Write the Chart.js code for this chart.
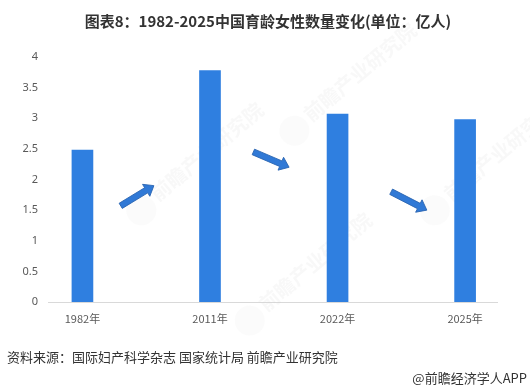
<!DOCTYPE html>
<html>
<head>
<meta charset="utf-8">
<script src="https://cdn.jsdelivr.net/npm/chart.js@4"></script>
<style>
  html, body { margin: 0; padding: 0; background: #fff; }
  #wrap { position: relative; width: 530px; height: 392px; overflow: hidden;
    font-family: "Noto Sans CJK SC", "Noto Sans", sans-serif; }
  #title { position: absolute; left: 3px; width: 530px; top: 10px; text-align: center;
    font-size: 15px; font-weight: bold; color: #333; }
  #src { position: absolute; left: 7px; top: 347px; font-size: 13px; color: #333; }
  #brand { position: absolute; right: 3px; top: 368px; font-size: 13px; color: #333; }
  canvas { position: absolute; left: 0; top: 0; }
</style>
</head>
<body>
<div id="wrap">
  <canvas id="c" width="530" height="392"></canvas>
  <div id="title">图表8：1982-2025中国育龄女性数量变化(单位：亿人)</div>
  <div id="src">资料来源：国际妇产科学杂志 国家统计局 前瞻产业研究院</div>
  <div id="brand">@前瞻经济学人APP</div>
</div>
<script>
  // values
  const years = ["1982年", "2011年", "2022年", "2025年"];
  const women = [2.48, 3.78, 3.07, 2.98];
  const yTicks = [0, 0.5, 1, 1.5, 2, 2.5, 3, 3.5, 4];
  // trend arrows, in data units: [x0, y0, x1, y1]
  const arrows = [
    [0.30, 1.57, 0.56, 1.90],
    [1.34, 2.45, 1.62, 2.20],
    [2.42, 1.80, 2.70, 1.50],
  ];
  // faint watermarks: [x, y] in data units
  const marks = [[0.75, 2.0], [1.95, 3.3], [3.05, 2.0], [1.6, 0.2]];

  const BLUE = "#2f7fe0";

  // draws the blue block arrows between bars
  const arrowPlugin = {
    id: "arrows",
    afterDatasetsDraw(chart) {
      const { ctx, scales: { x, y } } = chart;
      arrows.forEach(a => {
        const x0 = x.getPixelForValue(a[0]), y0 = y.getPixelForValue(a[1]);
        const x1 = x.getPixelForValue(a[2]), y1 = y.getPixelForValue(a[3]);
        const len = Math.hypot(x1 - x0, y1 - y0);
        ctx.save();
        ctx.translate(x0, y0);
        ctx.rotate(Math.atan2(y1 - y0, x1 - x0));
        const w = 3, hl = 9, hw = 7;
        ctx.beginPath();
        ctx.moveTo(0, -w);
        ctx.lineTo(len - hl, -w);
        ctx.lineTo(len - hl, -hw);
        ctx.lineTo(len, 0);
        ctx.lineTo(len - hl, hw);
        ctx.lineTo(len - hl, w);
        ctx.lineTo(0, w);
        ctx.closePath();
        ctx.fillStyle = "#3079d6";
        ctx.fill();
        ctx.strokeStyle = "#2a64b0";
        ctx.lineWidth = 0.8;
        ctx.stroke();
        ctx.restore();
      });
    },
  };

  const watermarkPlugin = {
    id: "watermark",
    beforeDatasetsDraw(chart) {
      const { ctx, scales: { x, y } } = chart;
      marks.forEach(m => {
        ctx.save();
        ctx.translate(x.getPixelForValue(m[0]), y.getPixelForValue(m[1]));
        ctx.rotate(-Math.PI / 4.5);
        ctx.fillStyle = "rgba(205,205,210,0.08)";
        ctx.beginPath();
        ctx.arc(-48, 0, 15, 0, Math.PI * 2);
        ctx.fill();
        ctx.fillStyle = "rgba(205,205,210,0.15)";
        ctx.font = "bold 20px 'Noto Sans CJK SC'";
        ctx.textBaseline = "middle";
        ctx.fillText("前瞻产业研究院", -30, -3);
        ctx.restore();
      });
    },
  };

  new Chart(document.getElementById("c"), {
    type: "bar",
    data: {
      datasets: [{
        data: women.map((v, i) => ({ x: i, y: v })),
        backgroundColor: BLUE,
        barThickness: 21,
      }],
    },
    options: {
      responsive: false, animation: false,
      layout: { padding: { top: 57, right: 33, bottom: 60, left: 0 } },
      plugins: { legend: { display: false }, tooltip: { enabled: false } },
      scales: {
        x: {
          type: "linear", min: -0.27, max: 3.25, offset: false,
          afterBuildTicks: ax => { ax.ticks = years.map((_, i) => ({ value: i })); },
          afterFit: ax => { ax.height = 30; },
          grid: { display: false, drawTicks: false },
          border: { display: true, color: "#d9d9d9", width: 1 },
          ticks: {
            color: "#595959", padding: 10, maxRotation: 0, autoSkip: false,
            font: { family: "Noto Sans CJK SC", size: 11 },
            callback: v => years[v],
          },
        },
        y: {
          min: 0, max: 4,
          afterBuildTicks: ax => { ax.ticks = yTicks.map(v => ({ value: v })); },
          afterFit: ax => { ax.width = 48; },
          grid: { display: false, drawTicks: false },
          border: { display: false },
          ticks: {
            color: "#595959", padding: 10,
            font: { family: "Noto Sans", size: 11 },
            callback: v => String(v),
          },
        },
      },
    },
    plugins: [watermarkPlugin, arrowPlugin],
  });
</script>
</body>
</html>
